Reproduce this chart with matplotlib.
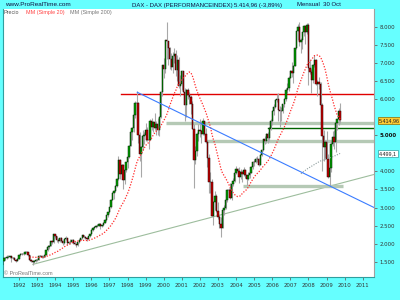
import numpy as np
import pandas as pd
import matplotlib
matplotlib.use("Agg")
import matplotlib.pyplot as plt

# ---------------- data (monthly DAX, Jan 1991 - Oct 2009) ----------------
start_year = 1991
closes = [
    1400, 1520, 1600, 1590, 1640, 1620, 1650, 1600, 1610, 1560, 1530, 1578,
    1680, 1720, 1710, 1720, 1780, 1760, 1680, 1540, 1510, 1490, 1530, 1545,
    1560, 1650, 1660, 1640, 1640, 1700, 1820, 1920, 1940, 2070, 2040, 2267,
    2200, 2110, 2070, 2160, 2070, 2010, 2130, 2160, 2010, 2040, 2050, 2107,
    2030, 1980, 1950, 2040, 2110, 2150, 2230, 2180, 2160, 2130, 2200, 2254,
    2390, 2420, 2470, 2490, 2500, 2550, 2480, 2510, 2580, 2650, 2790, 2889,
    3010, 3220, 3410, 3450, 3590, 3780, 4330, 3920, 4170, 3750, 4030, 4250,
    4400, 4710, 5100, 5200, 5570, 5900, 5900, 5000, 4480, 4670, 4980, 5002,
    5160, 4870, 4880, 5390, 5240, 5380, 5200, 5300, 5150, 5520, 6200, 6958,
    6835, 7644, 7600, 7414, 7110, 6898, 7190, 7250, 6800, 7080, 6370, 6434,
    6795, 6208, 5830, 6264, 6123, 6058, 5862, 5188, 4308, 4559, 5044, 5160,
    5108, 5039, 5397, 5041, 4818, 4383, 3700, 3712, 2770, 3153, 3320, 2893,
    2748, 2547, 2424, 2942, 2983, 3221, 3487, 3484, 3257, 3656, 3746, 3965,
    4059, 4018, 3857, 3985, 3921, 4052, 3896, 3785, 3893, 3960, 4126, 4256,
    4255, 4350, 4349, 4185, 4460, 4587, 4886, 4830, 5044, 4930, 5193, 5408,
    5674, 5797, 5970, 6009, 5692, 5683, 5681, 5860, 6004, 6268, 6309, 6597,
    6789, 6716, 6917, 7409, 7883, 8007, 7584, 7638, 7861, 8019, 7871, 8067,
    6851, 6748, 6535, 6949, 7097, 6418, 6479, 6422, 5831, 4988, 4669, 4810,
    4338, 3844, 4085, 4770, 4941, 4809, 5332, 5458, 5675, 5415,
]
opens = [
    1398, 1400, 1520, 1600, 1590, 1640, 1620, 1650, 1600, 1610, 1560, 1530,
    1578, 1680, 1720, 1710, 1720, 1780, 1760, 1680, 1540, 1510, 1490, 1530,
    1545, 1560, 1650, 1660, 1640, 1640, 1700, 1820, 1920, 1940, 2070, 2040,
    2267, 2200, 2110, 2070, 2160, 2070, 2010, 2130, 2160, 2010, 2040, 2050,
    2107, 2030, 1980, 1950, 2040, 2110, 2150, 2230, 2180, 2160, 2130, 2200,
    2254, 2390, 2420, 2470, 2490, 2500, 2550, 2480, 2510, 2580, 2650, 2790,
    2889, 3010, 3220, 3410, 3450, 3590, 3780, 4330, 3920, 4170, 3750, 4030,
    4250, 4400, 4710, 5100, 5200, 5570, 5900, 5900, 5000, 4480, 4670, 4980,
    5002, 5160, 4870, 4880, 5390, 5240, 5380, 5200, 5300, 5150, 5520, 6200,
    6958, 6835, 7644, 7600, 7414, 7110, 6898, 7190, 7250, 6800, 7080, 6370,
    6434, 6795, 6208, 5830, 6264, 6123, 6058, 5862, 5188, 4308, 4559, 5044,
    5160, 5108, 5039, 5397, 5041, 4818, 4383, 3700, 3712, 2770, 3153, 3320,
    2893, 2748, 2547, 2424, 2942, 2983, 3221, 3487, 3484, 3257, 3656, 3746,
    3965, 4059, 4018, 3857, 3985, 3921, 4052, 3896, 3785, 3893, 3960, 4126,
    4256, 4255, 4350, 4349, 4185, 4460, 4587, 4886, 4830, 5044, 4930, 5193,
    5408, 5674, 5797, 5970, 6009, 5692, 5683, 5681, 5860, 6004, 6268, 6309,
    6597, 6789, 6716, 6917, 7409, 7883, 8007, 7584, 7638, 7861, 8019, 7871,
    8067, 6851, 6748, 6535, 6949, 7097, 6418, 6479, 6422, 5831, 4988, 4669,
    4810, 4338, 3844, 4085, 4770, 4941, 4809, 5332, 5458, 5675,
]
highs = [
    1440, 1540, 1620, 1640, 1680, 1690, 1670, 1660, 1640, 1630, 1580, 1600,
    1700, 1750, 1740, 1740, 1810, 1790, 1770, 1690, 1580, 1560, 1560, 1570,
    1580, 1670, 1700, 1690, 1670, 1720, 1830, 1950, 1970, 2080, 2100, 2270,
    2270, 2220, 2150, 2190, 2180, 2090, 2160, 2200, 2170, 2080, 2120, 2130,
    2120, 2070, 2000, 2050, 2120, 2170, 2250, 2240, 2220, 2180, 2210, 2270,
    2400, 2470, 2490, 2510, 2540, 2580, 2560, 2530, 2590, 2670, 2800, 2890,
    3020, 3250, 3430, 3480, 3620, 3830, 4440, 4340, 4200, 4200, 4080, 4260,
    4420, 4720, 5170, 5240, 5600, 5940, 6217, 5920, 5100, 4700, 5140, 5100,
    5330, 5220, 5100, 5440, 5490, 5400, 5620, 5400, 5490, 5540, 6220, 6960,
    7150, 7650, 8136, 7600, 7450, 7270, 7320, 7430, 7350, 7230, 7180, 6660,
    6800, 6790, 6300, 6290, 6310, 6210, 6120, 5950, 5300, 4700, 5080, 5300,
    5460, 5150, 5470, 5400, 5190, 4830, 4470, 3980, 3800, 3190, 3450, 3380,
    3160, 2800, 2750, 3000, 3060, 3330, 3500, 3540, 3680, 3660, 3820, 3970,
    4160, 4100, 4110, 4060, 4000, 4120, 4060, 3830, 3980, 3990, 4160, 4270,
    4340, 4410, 4440, 4380, 4470, 4630, 4900, 4990, 5070, 5100, 5240, 5460,
    5690, 5880, 6000, 6140, 6160, 5810, 5780, 5880, 6040, 6300, 6440, 6630,
    6810, 7040, 6940, 7420, 7900, 8090, 8151, 7690, 7870, 8050, 8030, 8100,
    8100, 7080, 6840, 6980, 7230, 7110, 6530, 6610, 6490, 5900, 5150, 4860,
    5110, 4490, 4180, 4830, 5110, 5150, 5370, 5460, 5760, 5888,
]
lows = [
    1320, 1390, 1510, 1560, 1570, 1600, 1590, 1480, 1570, 1550, 1500, 1510,
    1570, 1660, 1680, 1690, 1710, 1740, 1660, 1520, 1480, 1420, 1470, 1500,
    1510, 1550, 1630, 1610, 1600, 1630, 1690, 1810, 1860, 1930, 1980, 2030,
    2150, 2060, 2030, 2050, 2040, 1950, 2000, 2100, 1960, 1980, 2000, 2030,
    2000, 1960, 1910, 1940, 2030, 2090, 2140, 2160, 2130, 2080, 2120, 2190,
    2240, 2360, 2400, 2440, 2460, 2490, 2400, 2450, 2480, 2560, 2630, 2750,
    2860, 2990, 3200, 3250, 3420, 3560, 3760, 3790, 3870, 3500, 3650, 3990,
    4100, 4370, 4700, 4880, 5100, 5480, 5680, 4800, 4300, 3833, 4600, 4750,
    4830, 4850, 4620, 4870, 5150, 5100, 5150, 5020, 5010, 4980, 5490, 6100,
    6600, 6730, 7100, 6950, 6850, 6800, 6730, 7000, 6650, 6500, 6300, 6100,
    6250, 6200, 5390, 5520, 6000, 5870, 5580, 5170, 3540, 4200, 4440, 4850,
    4960, 4780, 5020, 5000, 4790, 4130, 3400, 3410, 2770, 2519, 2920, 2880,
    2690, 2440, 2189, 2420, 2780, 2950, 3150, 3280, 3230, 3200, 3590, 3700,
    3920, 3960, 3690, 3800, 3720, 3870, 3820, 3620, 3750, 3810, 3950, 4070,
    4150, 4240, 4260, 4140, 4170, 4430, 4570, 4750, 4780, 4800, 4840, 5160,
    5290, 5550, 5760, 5930, 5400, 5240, 5400, 5630, 5780, 5960, 6180, 6240,
    6580, 6620, 6440, 6910, 7400, 7640, 7480, 7270, 7380, 7750, 7520, 7800,
    6380, 6710, 6170, 6460, 6890, 6380, 6100, 6270, 5640, 4015, 4300, 4380,
    4120, 3820, 3588, 3990, 4700, 4630, 4550, 5150, 5290, 5340,
]

# drawn support / resistance lines: (x0, y0, x1, y1) in (year, points)
red_level = (1997.62, 6150, 2011.63, 6150)
blue_trend = (1998.54, 6191, 2011.63, 3000)
long_support = (1992.77, 1427, 2011.63, 3917)
band_levels = [(2000.11, 5340, 2011.63, 5340),
               (2002.34, 4850, 2011.63, 4850),
               (2004.37, 3596, 2009.89, 3596)]
green_level = (2005.76, 5190, 2011.63, 5190)

last_price_label = "5.414,96"
ma200_label = "4.499,1"
ytick_values = [1500, 2000, 2500, 3000, 3500, 4000, 5000, 6000, 6500, 7000, 7500, 8000]
xtick_years = list(range(1992, 2012))

# ---------------- figure ----------------
W, H = 400, 300
fig = plt.figure(figsize=(W / 100, H / 100), dpi=100)
fig.patch.set_facecolor("#66ffff")
ax = fig.add_axes([3 / W, 23 / H, 371 / W, 268 / H])
ax.set_facecolor("white")
FONT = "Liberation Sans"
plt.rcParams["font.family"] = [FONT, "DejaVu Sans"]

n = len(closes)
t = start_year + np.arange(n) / 12.0
o = np.array(opens, float)
c = np.array(closes, float)
h = np.array(highs, float)
l = np.array(lows, float)

# lines behind candles
def seg(s, **kw):
    ax.plot([s[0], s[2]], [s[1], s[3]], **kw)

seg(long_support, color="#9dbd9d", lw=0.8, zorder=1)
for b in band_levels:
    seg(b, color="#b5c9b5", lw=2.4, zorder=1, solid_capstyle="butt")
seg(green_level, color="#006400", lw=1.0, zorder=1)
seg(red_level, color="#e00000", lw=1.0, zorder=1)

# candles
ax.vlines(t, l, h, color="#a8a8a8", lw=0.8, zorder=2)
up = c >= o
bw = 0.075
ax.bar(t[up], (c - o)[up], bottom=o[up], width=bw, color="#00a000",
       edgecolor="#002200", lw=0.35, zorder=3)
ax.bar(t[~up], (o - c)[~up], bottom=c[~up], width=bw, color="#c80000",
       edgecolor="#220000", lw=0.35, zorder=3)

# moving averages
s = pd.Series(c)
ma20 = s.rolling(20).mean()
ma200 = s.rolling(200).mean()
ax.plot(t, ma20, color="#ff2a2a", lw=0.9, ls=(0, (1, 1.3)), zorder=4)
ax.plot(t, ma200, color="#8c9c9c", lw=0.8, ls=(0, (1, 1.3)), zorder=4)

seg(blue_trend, color="#3a7cff", lw=0.8, zorder=4)

ax.set_xlim(1991.116, 2011.624)
ax.set_ylim(1077, 8498)

# axes styling
for side in ["left", "bottom"]:
    ax.spines[side].set_color("#2f9f9f")
    ax.spines[side].set_linewidth(0.8)
ax.spines["right"].set_color("#a0a0a0")
ax.spines["right"].set_linewidth(0.8)
ax.spines["top"].set_visible(False)

ax.yaxis.tick_right()
ax.set_yticks(ytick_values)
ax.set_yticklabels([f"{v:,}".replace(",", ".") for v in ytick_values])
ax.set_xticks(xtick_years)
ax.set_xticklabels([str(y) for y in xtick_years])
ax.tick_params(axis="y", length=2.5, width=0.6, color="#666666", pad=1.5,
               labelsize=3.9, labelcolor="#333333")
ax.tick_params(axis="x", length=2, width=0.6, color="#666666", pad=2.5,
               labelsize=3.9, labelcolor="#333333")
for lab in ax.get_yticklabels():
    if lab.get_text() == "5.000":
        lab.set_fontweight("bold")
        lab.set_color("#111111")

# header texts
def ftext(x, y, s, **kw):
    fig.text(x / W, 1 - y / H, s, va="center", **kw)

ftext(5, 5, "www.ProRealTime.com", fontsize=4.6, color="#101040")
ftext(132, 5, "DAX - DAX (PERFORMANCEINDEX)", fontsize=4.3, color="#101040")
ftext(234, 5, "5.414,96 (-3,89%)", fontsize=4.3, color="#101040")
ftext(297, 5, "Mensual  30 Oct", fontsize=4.3, color="#101040")

# legend inside plot
ftext(4, 12.5, "Precio", fontsize=3.9, color="#555555")
ftext(25.5, 12.5, "MM (Simple 20)", fontsize=3.9, color="#ff4444")
ftext(70, 12.5, "MM (Simple 200)", fontsize=3.9, color="#777777")

# copyright
ftext(4, 273.5, "\u00a9 ProRealTime.com", fontsize=3.9, color="#777777")

# value boxes on the price axis
ftext(379, 120.5, last_price_label, fontsize=3.9, color="#222222",
      bbox=dict(boxstyle="square,pad=0.18", fc="#ffcc33", ec="#8a6a00", lw=0.5))
ftext(379, 153.5, ma200_label, fontsize=3.9, color="#222222",
      bbox=dict(boxstyle="square,pad=0.18", fc="white", ec="#2f9f9f", lw=0.5))

fig.savefig("out.png", dpi=100, facecolor=fig.get_facecolor())
